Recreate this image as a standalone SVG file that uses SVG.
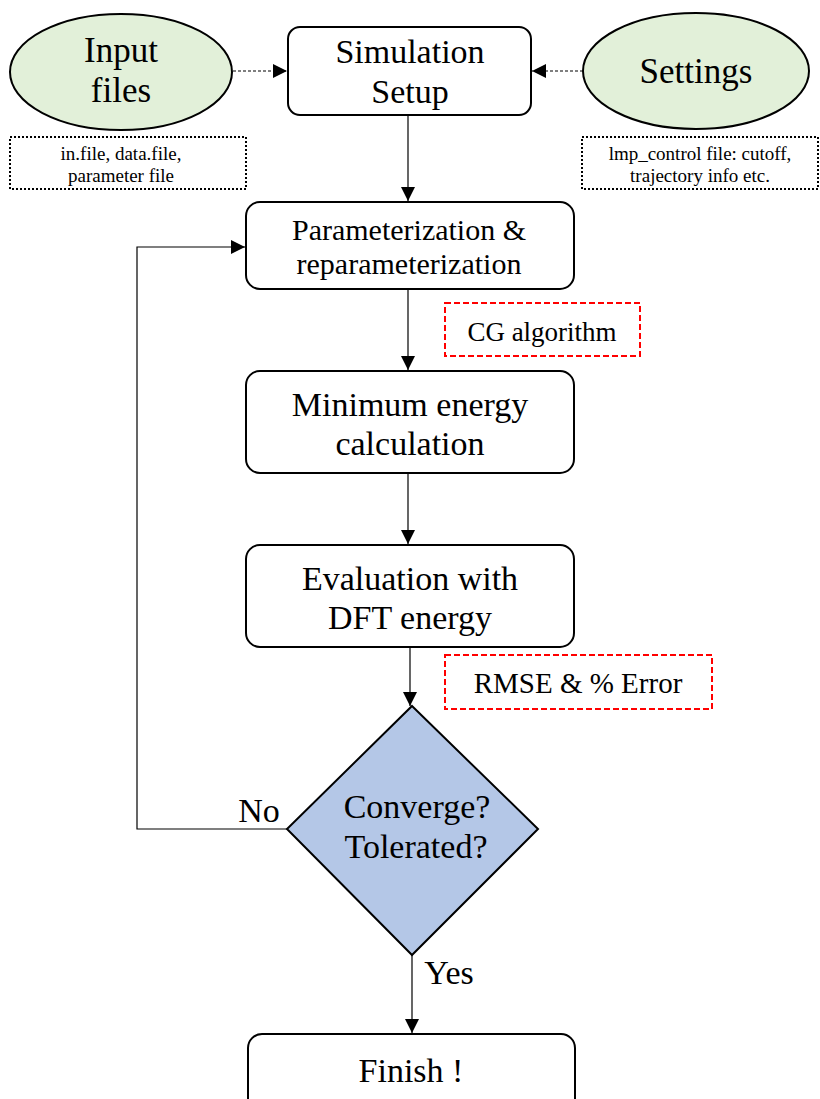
<svg xmlns="http://www.w3.org/2000/svg" width="820" height="1099" viewBox="0 0 820 1099">
<style>
text{font-family:"Liberation Serif","Times New Roman",serif;fill:#000;text-anchor:middle}
.box{fill:#fff;stroke:#000;stroke-width:2}
.ell{fill:#E2F0D9;stroke:#000;stroke-width:2}
.dot{fill:#fff;stroke:#000;stroke-width:2;stroke-dasharray:2 2}
.red{fill:#fff;stroke:#FF0000;stroke-width:2;stroke-dasharray:6 3}
.line{fill:none;stroke:#000;stroke-width:1.2}
.dash{fill:none;stroke:#000;stroke-width:1.2;stroke-dasharray:3 2}
.big{font-size:34px}
.note{font-size:19px}
</style>
<defs>
<marker id="arr" viewBox="0 0 10 10" refX="10" refY="5" markerWidth="14" markerHeight="14" markerUnits="userSpaceOnUse" orient="auto">
<path d="M0,0 L10,5 L0,10 z" fill="#000"/>
</marker>
</defs>
<g id="connectors">
<line class="dash" x1="233" y1="71" x2="287" y2="71" marker-end="url(#arr)"/>
<line class="dash" x1="583" y1="71" x2="532" y2="71" marker-end="url(#arr)"/>
<line class="line" x1="408" y1="115" x2="408" y2="201" marker-end="url(#arr)"/>
<line class="line" x1="408" y1="289" x2="408" y2="370" marker-end="url(#arr)"/>
<line class="line" x1="408" y1="473" x2="408" y2="544" marker-end="url(#arr)"/>
<line class="line" x1="410" y1="647" x2="410" y2="706" marker-end="url(#arr)"/>
<polyline class="line" points="287,829 137,829 137,247 245,247" marker-end="url(#arr)"/>
<line class="line" x1="412" y1="955" x2="412" y2="1033" marker-end="url(#arr)"/>
<text class="big" x="259" y="822">No</text>
<text class="big" x="449" y="984">Yes</text>
</g>
<g id="input-files">
<ellipse class="ell" cx="121" cy="72" rx="111" ry="58"/>
<text x="121" y="62" font-size="35">Input</text>
<text x="121" y="102" font-size="35">files</text>
</g>
<g id="input-note">
<rect class="dot" x="10" y="137" width="236" height="52"/>
<text class="note" x="121" y="160">in.file, data.file,</text>
<text class="note" x="121" y="182">parameter file</text>
</g>
<g id="settings">
<ellipse class="ell" cx="696" cy="71" rx="113" ry="58"/>
<text x="696" y="83" font-size="35">Settings</text>
</g>
<g id="settings-note">
<rect class="dot" x="582" y="137" width="236" height="52"/>
<text class="note" x="700" y="160">lmp_control file: cutoff,</text>
<text class="note" x="700" y="182">trajectory info etc.</text>
</g>
<g id="setup">
<rect class="box" x="288" y="27" width="243" height="88" rx="12"/>
<text class="big" x="410" y="63">Simulation</text>
<text class="big" x="410" y="103">Setup</text>
</g>
<g id="param">
<rect class="box" x="246" y="202" width="328" height="87" rx="14"/>
<text x="409" y="240" font-size="30">Parameterization &amp;</text>
<text x="409" y="274" font-size="30">reparameterization</text>
</g>
<g id="cg">
<rect class="red" x="445" y="303" width="195" height="53"/>
<text x="542" y="341" font-size="27">CG algorithm</text>
</g>
<g id="minimum">
<rect class="box" x="246" y="371" width="328" height="102" rx="14"/>
<text class="big" x="410" y="416">Minimum energy</text>
<text class="big" x="410" y="455">calculation</text>
</g>
<g id="evaluation">
<rect class="box" x="246" y="545" width="328" height="102" rx="14"/>
<text class="big" x="410" y="590">Evaluation with</text>
<text class="big" x="410" y="629">DFT energy</text>
</g>
<g id="rmse">
<rect class="red" x="445" y="655" width="267" height="54"/>
<text x="578" y="693" font-size="29">RMSE &amp; % Error</text>
</g>
<g id="decision">
<polygon points="412,706 538,829 412,955 287,829" fill="#B4C7E7" stroke="#000" stroke-width="2"/>
<text class="big" x="417" y="818">Converge?</text>
<text class="big" x="416" y="858">Tolerated?</text>
</g>
<g id="finish">
<rect class="box" x="248" y="1034" width="327" height="90" rx="14"/>
<text class="big" x="411" y="1082">Finish !</text>
</g>
</svg>
